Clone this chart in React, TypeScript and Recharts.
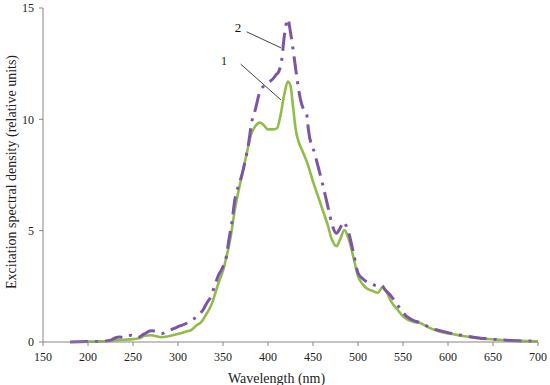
import React from 'react';
import { LineChart, Line, XAxis, YAxis, ReferenceLine, ReferenceDot } from 'recharts';

const wavelength1 = [200,215,225,240,250,258,263,270,282,295,305,310,315,321,326,330,337,345,350,354,358,363,370,376,381,386,391,395,400,406,410,414,418,422,425,428,431,434,438,444,450,456,461,466,471,476,480,485,489,495,500,505,510,516,522,527,531,537,543,550,556,562,569,577,587,596,606,615,624,637,650,665,680,700];
const density1 = [0.02,0.03,0.06,0.1,0.13,0.18,0.28,0.3,0.22,0.31,0.42,0.48,0.55,0.76,0.9,1.15,1.66,2.65,3.2,3.85,4.6,5.9,7.3,8.4,9.3,9.7,9.85,9.75,9.55,9.55,9.6,10.2,11.1,11.7,11.5,10.5,9.5,9.0,8.6,8.0,7.2,6.5,5.9,5.3,4.6,4.3,4.6,5.03,4.7,3.8,2.95,2.6,2.4,2.3,2.2,2.45,2.3,1.8,1.5,1.15,0.98,0.9,0.85,0.68,0.52,0.42,0.35,0.28,0.23,0.17,0.12,0.08,0.05,0.03];

const wavelength2 = [180,200,215,225,230,235,240,248,255,262,270,276,282,288,295,302,310,315,320,325,328,332,336,341,345,349,354,356,360,363,367,371,375,378,382,386,391,397,402,405,409,412,415,418,422,425,429,432,436,440,443,445,452,460,467,471,476,480,484,487,490,495,500,505,510,516,522,526,530,536,545,554,560,570,580,590,600,615,630,650,670,690,700];
const density2 = [0,0.02,0.03,0.08,0.18,0.22,0.2,0.3,0.2,0.35,0.5,0.48,0.38,0.48,0.6,0.72,0.85,1.0,1.1,1.3,1.45,1.75,2.0,2.56,3.0,3.3,3.9,4.45,5.4,6.35,7.0,7.5,8.2,8.8,9.9,10.45,11.25,11.55,11.7,11.8,12.0,12.15,12.6,13.7,14.5,13.9,12.8,11.9,10.9,10.4,10.2,9.5,8.45,7.2,6.0,5.3,4.88,5.1,5.4,5.2,4.85,4.0,3.1,2.85,2.7,2.6,2.5,2.55,2.35,2.1,1.6,1.15,1.0,0.85,0.65,0.52,0.42,0.3,0.2,0.12,0.07,0.04,0.03];

const xTicks = [150,200,250,300,350,400,450,500,550,600,650,700];
const yTicks = [0,5,10,15];

const series1 = wavelength1.map((x, i) => ({ x, y: density1[i] }));
const series2 = wavelength2.map((x, i) => ({ x, y: density2[i] }));

const FONT = "'Liberation Serif', Tinos, 'Times New Roman', 'DejaVu Serif', serif";
const tickStyle = { fontFamily: FONT, fontSize: 12, fill: '#222' };

export default function App() {
  return (
    <div style={{ position: 'absolute', left: 0, top: 0, width: 550, height: 385, background: '#fff', fontFamily: FONT }}>
      <LineChart width={550} height={385} margin={{ top: 8, right: 12, bottom: 0, left: 0 }} style={{ fontFamily: FONT }}>
        <XAxis
          type="number"
          dataKey="x"
          domain={[150, 700]}
          ticks={xTicks}
          allowDataOverflow
          height={43}
          tickSize={4}
          tickMargin={6}
          stroke="#868686"
          tick={tickStyle}
          label={{ value: 'Wavelength (nm)', position: 'insideBottom', offset: 2, dx: -14, fontFamily: FONT, fontSize: 14, fill: '#222' }}
        />
        <YAxis
          type="number"
          domain={[0, 15]}
          ticks={yTicks}
          width={43}
          tickSize={4}
          tickMargin={5}
          stroke="#868686"
          tick={tickStyle}
          label={() => (
            <text x={11} y={172} transform="rotate(-90 11 172)" textAnchor="middle" dominantBaseline="central" style={{ fontFamily: FONT, fontSize: 14, fill: '#222' }}>
              Excitation spectral density (relative units)
            </text>
          )}
        />
        <Line data={series1} dataKey="y" type="monotone" stroke="#92BC4A" strokeWidth={2.6} dot={false} isAnimationActive={false} />
        <Line data={series2} dataKey="y" type="monotone" stroke="#7C55A8" strokeWidth={3} strokeDasharray="18 7 3 7" dot={false} isAnimationActive={false} />
        <ReferenceLine segment={[{ x: 376.3, y: 13.93 }, { x: 414.4, y: 13.21 }]} stroke="#444" strokeWidth={1} />
        <ReferenceLine segment={[{ x: 369.7, y: 12.48 }, { x: 414.4, y: 10.87 }]} stroke="#444" strokeWidth={1} />
        <ReferenceDot x={366.7} y={14.14} r={0} fill="none" stroke="none"
          label={{ value: '2', position: 'center', style: { fontFamily: FONT, fontSize: 13, fill: '#111' } }} />
        <ReferenceDot x={351.1} y={12.66} r={0} fill="none" stroke="none"
          label={{ value: '1', position: 'center', style: { fontFamily: FONT, fontSize: 13, fill: '#3a2a1a' } }} />
      </LineChart>
    </div>
  );
}
